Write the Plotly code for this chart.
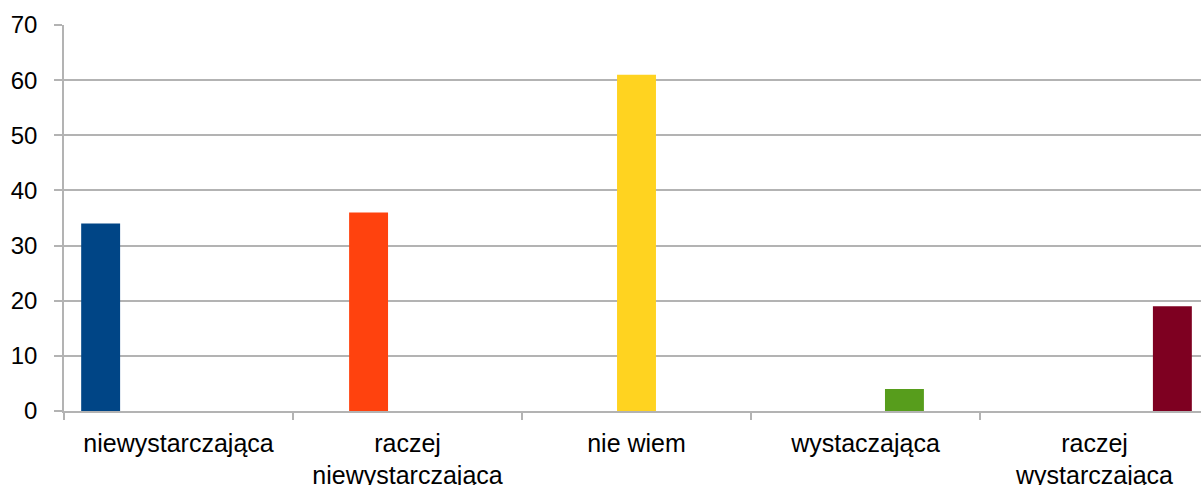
import plotly.graph_objects as go

categories = ["niewystarczająca", "raczej<br>niewystarczająca", "nie wiem", "wystaczająca", "raczej<br>wystarczająca"]
values = [34, 36, 61, 4, 19]
colors = ["#004586", "#ff420e", "#ffd320", "#579d1c", "#7e0021"]
y_ticks = [0, 10, 20, 30, 40, 50, 60, 70]

fig = go.Figure()
for i, (v, c) in enumerate(zip(values, colors)):
    ys = [v if j == i else None for j in range(len(categories))]
    fig.add_trace(go.Bar(x=categories, y=ys, marker=dict(color=c, line=dict(width=0)),
                         showlegend=False, name=categories[i]))

grid = "#b3b3b3"
fig.update_layout(
    width=1201, height=485,
    margin=dict(l=64, r=0, t=25, b=74),
    barmode="group", bargap=0.15, bargroupgap=0,
    plot_bgcolor="white", paper_bgcolor="white",
    font=dict(family="Liberation Sans, Arial, sans-serif", size=25, color="#000000"),
    xaxis=dict(range=[-0.5, 4.465], tickson="boundaries", ticks="outside", ticklen=7,
               tickcolor=grid, tickwidth=1.5, showline=True, linecolor=grid, linewidth=1.5,
               showgrid=False, tickfont=dict(size=25), ticklabelstandoff=9, automargin=False),
    yaxis=dict(range=[0, 70], tickvals=y_ticks, ticks="outside", ticklen=8, tickcolor=grid,
               tickwidth=1.5, showline=True, linecolor=grid, linewidth=1.5,
               showgrid=True, gridcolor=grid, gridwidth=1.5, zeroline=False,
               tickfont=dict(size=24), ticklabelstandoff=12, automargin=False),
)
js = ("var s=document.documentElement.style;s.margin='0';s.padding='0';s.overflow='hidden';"
      "s.height='485px';s.width='1201px';"
      "var b=document.body.style;b.margin='0';b.padding='0';b.overflow='hidden';"
      "b.height='485px';b.width='1201px';")
fig.write_html("out.html", config={"displayModeBar": False}, post_script=js)
